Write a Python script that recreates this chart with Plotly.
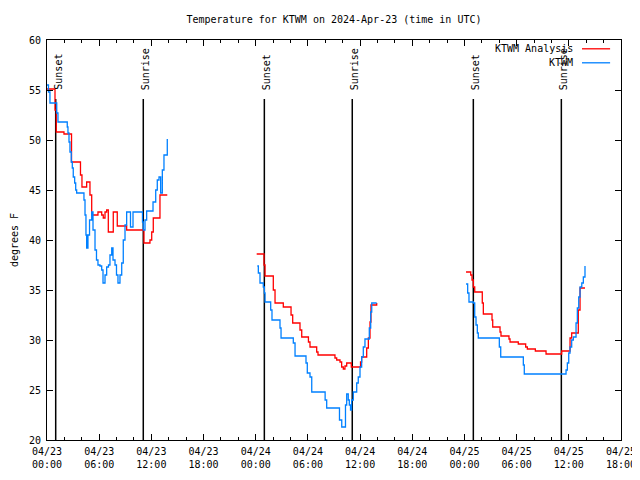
import pandas as pd
import plotly.graph_objects as go

BASE = pd.Timestamp("2024-04-23 00:00")

# hours since 2024-04-23 00:00 UTC, temperature in degrees F
obs_hours = [
    [0.00, 0.17, 0.34, 1.12, 1.26, 2.33, 2.41, 2.53, 2.64, 2.79, 2.91, 3.02, 3.18, 3.30, 3.41,
     4.25, 4.37, 4.48, 4.56, 4.71, 4.89, 5.14, 5.29, 5.52, 5.69, 5.86, 6.09, 6.29, 6.44, 6.67,
     6.86, 7.07, 7.24, 7.44, 7.59, 7.82, 7.99, 8.16, 8.39, 8.59, 8.77, 8.97, 9.16, 9.60, 9.89,
     10.98, 11.07, 11.27, 11.46, 12.19, 12.50, 12.68, 12.88, 13.07, 13.26, 13.45, 13.83],
    [24.18, 24.30, 24.49, 24.87, 24.99, 25.07, 25.72, 25.87, 26.79, 26.91, 28.32, 28.52, 29.78,
     29.93, 30.24, 30.44, 31.98, 32.16, 33.63, 33.89, 34.32, 34.46, 34.64, 34.76, 34.90, 35.03,
     35.22, 35.61, 35.79, 35.99, 36.18, 36.37, 36.56, 37.06, 37.22, 37.34, 37.91],
    [48.18, 48.37, 48.52, 49.02, 49.18, 49.33, 49.48, 49.59, 52.01, 52.17, 54.77, 54.88, 59.68,
     59.83, 59.99, 60.14, 60.33, 60.52, 60.83, 60.98, 61.14, 61.29, 61.49, 61.67, 61.86],
]
obs_temps = [
    [55.5, 54.8, 53.7, 52.7, 51.8, 51.3, 50.7, 49.8, 48.8, 47.8, 47.2, 46.3, 45.7, 45.0, 44.7,
     44.0, 42.5, 40.5, 39.2, 40.5, 42.0, 42.8, 41.0, 39.0, 38.0, 37.5, 37.4, 37.0, 35.7, 36.5,
     37.3, 37.5, 38.5, 39.2, 38.0, 37.5, 36.5, 35.7, 36.5, 37.7, 40.0, 41.5, 42.8, 41.3, 42.8,
     41.8, 41.0, 42.0, 42.9, 43.8, 45.0, 46.0, 46.3, 44.7, 47.0, 48.5, 50.1],
    [37.4, 36.7, 35.7, 35.3, 34.7, 33.8, 33.0, 32.0, 31.2, 30.2, 29.7, 28.4, 27.7,
     26.7, 26.3, 24.8, 24.0, 23.2, 22.0, 21.3, 23.5, 24.6, 24.0, 23.5, 23.0, 24.0,
     24.8, 25.7, 26.3, 27.3, 28.3, 29.3, 30.1, 31.2, 32.8, 33.7, 33.7],
    [35.6, 34.7, 33.8, 33.7, 32.3, 31.5, 30.7, 30.2, 29.3, 28.3, 27.5, 26.6, 27.0,
     27.7, 28.7, 29.3, 30.0, 30.3, 31.7, 33.2, 34.3, 35.3, 35.7, 36.3, 37.4],
]

ana_hours = [
    [0.00, 0.92, 1.07, 1.95, 2.82, 3.85, 4.02, 4.56, 4.94, 5.14, 5.86, 6.29, 6.47, 6.67, 6.86,
     7.05, 7.62, 8.08, 9.16, 11.15, 11.84, 12.04, 12.22, 12.99, 13.83],
    [24.11, 24.95, 25.07, 26.02, 26.22, 27.17, 28.06, 28.25, 29.09, 29.29, 30.06, 30.24, 31.01,
     31.16, 33.11, 33.31, 33.69, 33.88, 34.07, 34.26, 34.46, 34.99, 36.05, 36.18, 36.76, 36.95,
     37.14, 37.25, 37.91],
    [48.18, 48.72, 48.87, 49.02, 49.18, 50.05, 50.17, 51.17, 51.25, 52.09, 52.20, 53.12, 53.24,
     54.19, 55.04, 55.23, 56.15, 57.38, 59.18, 60.14, 60.33, 61.09, 61.29, 61.86],
]
ana_temps = [
    [55.1, 53.0, 50.8, 50.6, 47.8, 46.5, 45.3, 45.8, 44.5, 42.5, 42.8, 42.5, 42.2, 42.8, 43.0,
     40.8, 42.8, 41.4, 41.0, 39.7, 40.0, 40.8, 42.2, 44.5, 44.5],
    [38.6, 37.5, 36.4, 35.0, 33.7, 33.3, 32.5, 31.7, 31.0, 30.3, 29.8, 29.3, 28.8,
     28.5, 28.2, 28.0, 27.8, 27.3, 27.1, 27.4, 27.7, 27.3, 27.8, 28.3, 29.2, 30.2,
     31.8, 33.5, 33.7],
    [36.8, 36.5, 36.0, 35.3, 34.8, 33.7, 32.6, 32.0, 31.3, 30.8, 30.4, 30.1, 29.8,
     29.6, 29.3, 29.1, 28.9, 28.6, 28.9, 30.2, 30.7, 33.0, 35.2, 35.2],
]

sun_hours = [1.00, 11.07, 24.99, 35.10, 49.02, 59.14]
sun_labels = ["Sunset", "Sunrise", "Sunset", "Sunrise", "Sunset", "Sunrise"]
sun_line_top = 54.1

tick_hours = [0, 6, 12, 18, 24, 30, 36, 42, 48, 54, 60, 66]
tick_labels = ["04/23<br>00:00", "04/23<br>06:00", "04/23<br>12:00", "04/23<br>18:00",
               "04/24<br>00:00", "04/24<br>06:00", "04/24<br>12:00", "04/24<br>18:00",
               "04/25<br>00:00", "04/25<br>06:00", "04/25<br>12:00", "04/25<br>18:00"]
y_ticks = [20, 25, 30, 35, 40, 45, 50, 55, 60]

RED = "#ff0000"
BLUE = "#0080ff"
FONT = "DejaVu Sans Mono"
FS = 10
PAGE_OFFSET = 8  # default page margin around the figure


def to_time(hours):
    return [BASE + pd.Timedelta(hours=h) for h in hours]


def joined(hlist, tlist):
    xs, ys = [], []
    for h, t in zip(hlist, tlist):
        xs += to_time(h) + [None]
        ys += list(t) + [None]
    return xs, ys


fig = go.Figure()

# sunrise / sunset lines
sx, sy = [], []
for h in sun_hours:
    tt = to_time([h])[0]
    sx += [tt, tt, None]
    sy += [20, sun_line_top, None]
fig.add_trace(go.Scatter(x=sx, y=sy, mode="lines", line=dict(color="black", width=1.5),
                         hoverinfo="skip", showlegend=False))

ax, ay = joined(ana_hours, ana_temps)
fig.add_trace(go.Scatter(x=ax, y=ay, mode="lines", name="KTWM Analysis",
                         line=dict(color=RED, width=1.3, shape="hv"), connectgaps=False,
                         showlegend=False))
ox, oy = joined(obs_hours, obs_temps)
fig.add_trace(go.Scatter(x=ox, y=oy, mode="lines", name="KTWM",
                         line=dict(color=BLUE, width=1.3, shape="hv"), connectgaps=False,
                         showlegend=False))

annotations = []
for h, lab in zip(sun_hours, sun_labels):
    annotations.append(dict(x=to_time([h])[0], y=0.87, xref="x", yref="y domain",
                            text=lab, textangle=-90, showarrow=False,
                            xanchor="center", yanchor="bottom", xshift=2,
                            font=dict(family=FONT, size=FS, color="black")))

# legend (gnuplot style: text left, sample right)
legend_items = [("KTWM Analysis", RED, 0.978), ("KTWM", BLUE, 0.943)]
shapes = []
for name, col, yy in legend_items:
    annotations.append(dict(x=0.920, y=yy, xref="paper", yref="paper", text=name,
                            showarrow=False, xanchor="right", yanchor="middle",
                            font=dict(family=FONT, size=FS, color="black")))
    shapes.append(dict(type="line", xref="paper", yref="paper", x0=0.932, x1=0.981,
                       y0=yy, y1=yy, line=dict(color=col, width=1.3)))

fig.update_layout(
    width=640, height=480,
    margin=dict(l=47 - PAGE_OFFSET, r=19 + PAGE_OFFSET, t=40 - PAGE_OFFSET,
                b=40 + PAGE_OFFSET, autoexpand=False),
    plot_bgcolor="white", paper_bgcolor="white",
    font=dict(family=FONT, size=FS, color="black"),
    title=dict(text="Temperature for KTWM on 2024-Apr-23 (time in UTC)", x=0.5, xref="paper",
               y=1 - (19 - PAGE_OFFSET) / 480, yanchor="middle", xanchor="center",
               font=dict(family=FONT, size=FS, color="black")),
    annotations=annotations,
    shapes=shapes,
    showlegend=False,
)
fig.update_xaxes(
    range=[BASE, BASE + pd.Timedelta(hours=66)], automargin=False,
    tickmode="array", tickvals=to_time(tick_hours), ticktext=tick_labels,
    ticks="inside", ticklen=6, tickcolor="black", tickwidth=1, ticklabelstandoff=2,
    minor=dict(dtick=2 * 3600000, ticks="inside", ticklen=3, tickcolor="black", showgrid=False),
    showgrid=False, zeroline=False,
    showline=True, linecolor="black", linewidth=1, mirror="ticks",
    tickfont=dict(family=FONT, size=FS, color="black"),
)
fig.update_yaxes(
    range=[20, 60], automargin=False, tickmode="array", tickvals=y_ticks,
    ticks="inside", ticklen=6, tickcolor="black", tickwidth=1, ticklabelstandoff=3,
    showgrid=False, zeroline=False,
    showline=True, linecolor="black", linewidth=1, mirror="ticks",
    tickfont=dict(family=FONT, size=FS, color="black"),
    title=dict(text="degrees F", standoff=8, font=dict(family=FONT, size=FS, color="black")),
)

fig.write_html("out.html")
